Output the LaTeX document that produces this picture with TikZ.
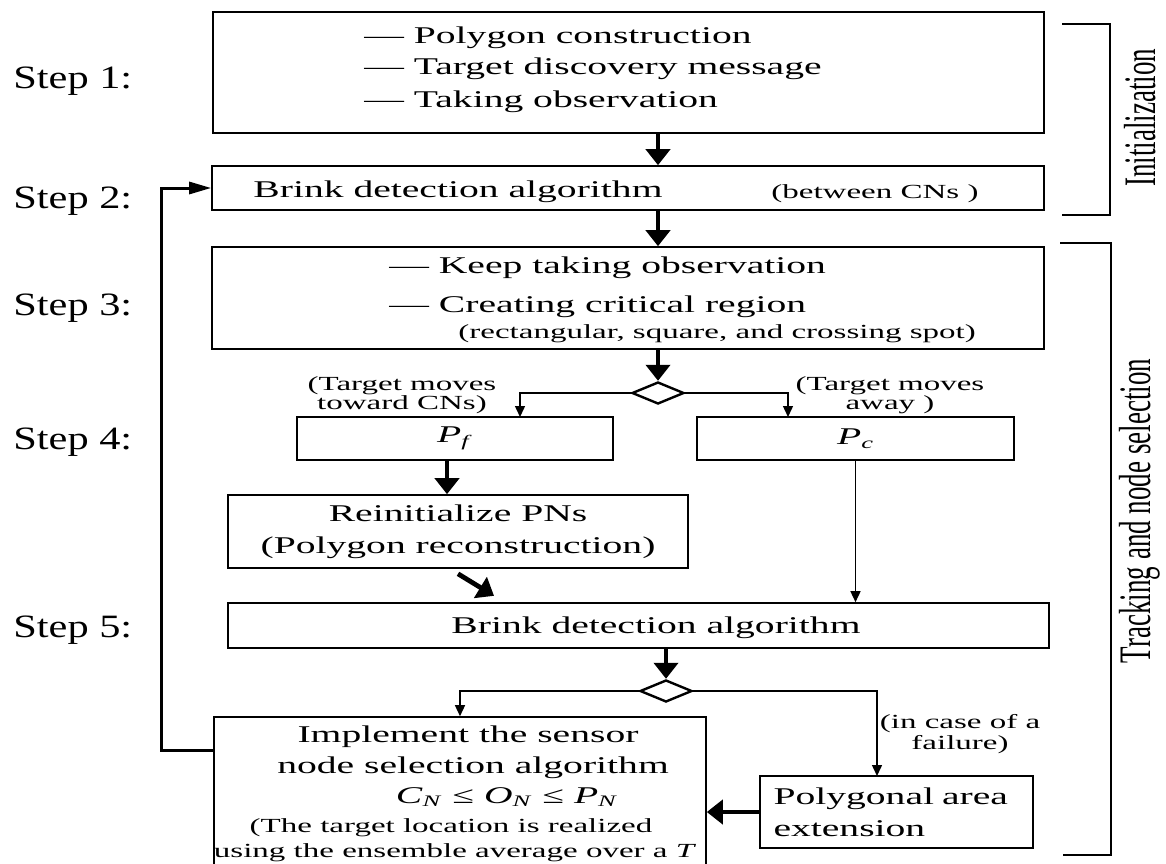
\documentclass[tikz,border=0pt]{standalone}
\usepackage{fontspec}
\setmainfont{Liberation Serif}[FakeStretch=1.65]
\newfontfamily\stepfont{Liberation Serif}[FakeStretch=1.3]
\newfontfamily\sidefont{Liberation Serif}[FakeStretch=0.6]
\usetikzlibrary{arrows.meta,shapes.geometric,calc}
\tikzset{
  box/.style={draw,line width=0.8pt,inner sep=0pt,font=\fontsize{12}{16}\selectfont},
  txt/.style={anchor=base west,inner sep=0pt,font=\fontsize{12}{14}\selectfont},
  smalltxt/.style={inner sep=0pt,align=center,font=\fontsize{10}{9.5}\selectfont},
  steplabel/.style={anchor=base west,inner sep=0pt,font=\stepfont\fontsize{16.3}{19}\selectfont},
  sidelabel/.style={rotate=90,inner sep=0pt,font=\sidefont\fontsize{22.5}{26}\selectfont},
  decision/.style={draw,diamond,line width=1.2pt,inner sep=0pt,minimum width=26pt,minimum height=11pt},
  bigarrow/.style={line width=2.4pt,-{Triangle[width=12pt,length=8pt]}},
  thinarrow/.style={line width=0.7pt,-{Triangle[width=5pt,length=5.5pt]}},
  looparrow/.style={line width=1.5pt,-{Triangle[width=6pt,length=11pt]}}
}
\begin{document}
\begin{tikzpicture}[x=0.5pt,y=-0.5pt]
\useasboundingbox (0,0) rectangle (1166,863);
\clip (0,0) rectangle (1166,863);
% step labels
\foreach \n/\y in {1/88,2/208,3/315,4/449,5/637}
  \node[steplabel] (step\n) at (13,\y) {Step \n:};
% boxes
\node[box,minimum width=415.5pt,minimum height=60.5pt] (init) at (628.5,72.5) {};
\node[box,minimum width=416pt,minimum height=22pt] (brinka) at (628,188) {};
\node[box,minimum width=416pt,minimum height=51pt] (region) at (628,298) {};
\node[box,minimum width=158pt,minimum height=21.5pt] (pf) at (455,438.5) {\textit{P}\textsubscript{\textit{f}}};
\node[box,minimum width=158.5pt,minimum height=21.5pt] (pc) at (855.5,438.5) {\textit{P}\textsubscript{\textit{c}}};
\node[box,minimum width=230pt,minimum height=36.5pt,align=center] (reinit) at (458,531.5) {Reinitialize PNs\\(Polygon reconstruction)};
\node[box,minimum width=410.5pt,minimum height=22.5pt] (brinkb) at (638.5,625.5) {};
\node[box,minimum width=246pt,minimum height=81.5pt] (impl) at (460,798.5) {};
\node[box,minimum width=136.5pt,minimum height=36pt,text width=123pt,align=left] (poly) at (896.5,812) {Polygonal area\\extension};
\node[decision] (deca) at (658,393) {};
\node[decision] (decb) at (666,691) {};
% texts in the wide boxes
\node[txt] (inita) at (364,43) {---\ Polygon construction};
\node[txt] (initb) at (364,74) {---\ Target discovery message};
\node[txt] (initc) at (364,107) {---\ Taking observation};
\node[txt] (brinkatxt) at (253,197) {Brink detection algorithm};
\node[txt,font=\fontsize{10}{12}\selectfont] (cns) at (771,198) {(between CNs )};
\node[txt] (regiona) at (389,273) {---\ Keep taking observation};
\node[txt] (regionb) at (389,312) {---\ Creating critical region};
\node[txt,font=\fontsize{10}{12}\selectfont] (regionc) at (458,338) {(rectangular, square, and crossing spot)};
\node[txt] (brinkbtxt) at (451,633) {Brink detection algorithm};
\node[txt,anchor=base] (impla) at (468,742) {Implement the sensor};
\node[txt,anchor=base] (implb) at (473,773) {node selection algorithm};
\node[txt,anchor=base] (implc) at (507,803) {\textit{C}\textsubscript{\textit{N}} ≤ \textit{O}\textsubscript{\textit{N}} ≤ \textit{P}\textsubscript{\textit{N}}};
\node[txt,anchor=base,font=\fontsize{10}{12}\selectfont] (impld) at (451,832) {(The target location is realized};
\node[txt,anchor=base,font=\fontsize{10}{12}\selectfont] (imple) at (455,857) {using the ensemble average over a \textit{T}};
% branch labels
\node[smalltxt] (towardlbl) at (402,395) {(Target moves\\toward CNs)};
\node[smalltxt] (awaylbl) at (890,395) {(Target moves\\away )};
\node[smalltxt,font=\fontsize{10}{10.5}\selectfont] (faillbl) at (960,734) {(in case of a\\failure)};
% phases
\draw[line width=0.9pt] (1062,24) -| (1110,215) -- (1062,215);
\draw[line width=0.9pt] (1060,243) -| (1111,855) -- (1063,855);
\node[sidelabel] (initlbl) at (1140,118) {Initialization};
\node[sidelabel] (tracklbl) at (1140,511) {Tracking and node selection};
% connectors
\coordinate (pfin) at (520,417);
\coordinate (pcin) at (788,417);
\coordinate (pfout) at (447,460);
\coordinate (polyin) at (877,776);
\draw[bigarrow] (init.south -| deca) -- (brinka.north -| deca);
\draw[bigarrow] (brinka.south -| deca) -- (region.north -| deca);
\draw[bigarrow] (region.south -| deca) -- (deca.north);
\draw[thinarrow] (deca.west) -| (pfin);
\draw[thinarrow] (deca.east) -| (pcin);
\draw[bigarrow] (pfout) -- (pfout |- reinit.north);
\draw[thinarrow] (pc.south) -- (pc.south |- brinkb.north);
\draw[bigarrow] ($(reinit.south)+(0,5)$) -- ($(reinit.south)+(36,27)$);
\draw[bigarrow] (brinkb.south -| decb) -- (decb.north);
\draw[thinarrow] (decb.west) -| (impl.north);
\draw[thinarrow] (decb.east) -| (polyin);
\draw[bigarrow] (poly.west) -- (poly.west -| impl.east);
\draw[looparrow] ($(impl.north west)+(0,34)$) -- ++(-52,0) |- (brinka.west);
\end{tikzpicture}
\end{document}
